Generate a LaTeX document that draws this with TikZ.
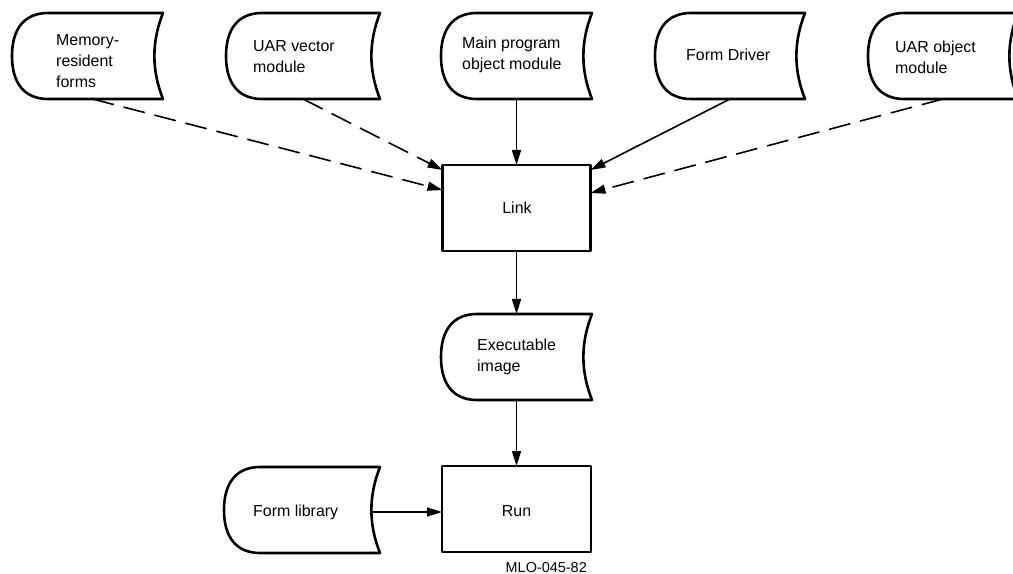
\documentclass[tikz,border=0pt]{standalone}
\usepackage{fontspec}
\setmainfont{Liberation Sans}
\usetikzlibrary{arrows.meta,calc}
\tikzset{
  box/.style={minimum width=#1, minimum height=86bp, inner sep=0pt, outer sep=0pt},
  outline/.style={line width=2.6bp, line join=round},
  lbl/.style={anchor=west, align=left, inner sep=0pt, font=\fontsize{16}{21}\selectfont},
  clbl/.style={inner sep=0pt, font=\fontsize{16}{21}\selectfont},
  conn/.style={line width=1.6bp, -{Triangle[length=15bp,width=9bp]}},
  dconn/.style={conn, dash pattern=on 22bp off 10bp},
}
\newcommand\storeoutline[1]{%
  \draw[outline] ($(#1.north west)+(36,0)$) -- (#1.north east)
    .. controls ($(#1.north east)+(-11.5,29)$) and ($(#1.south east)+(-11.5,-29)$) .. (#1.south east)
    -- ($(#1.south west)+(36,0)$)
    .. controls ($(#1.south west)+(13,0)$) and ($(#1.west)+(0,28)$) .. (#1.west)
    .. controls ($(#1.west)+(0,-28)$) and ($(#1.north west)+(13,0)$) .. cycle;}
\begin{document}
\begin{tikzpicture}[x=1bp, y=-1bp]
\useasboundingbox (0,0) rectangle (1013,574);
% stored-data shapes
\node[box=151bp] (m) at (87.5,56) {};
\node[box=154bp] (v) at (303,56) {};
\node[box=151bp] (p) at (516.5,56) {};
\node[box=150bp] (d) at (730,56) {};
\node[box=150bp] (o) at (943,56) {};
\node[box=151bp] (e) at (516.5,357) {};
\node[box=156bp] (lib) at (302,510) {};
\foreach \n in {m,v,p,d,o,e,lib} {\storeoutline{\n}}
% process boxes
\node[box=148bp, draw, outline] (link) at (516.5,208) {};
\node[box=149bp, draw, outline] (run) at (516.5,509) {};
% labels
\node[lbl] (mt) at (56,61) {Memory-\\resident\\forms};
\node[lbl] (vt) at (253,57) {UAR vector\\module};
\node[lbl] (pt) at (462,55) {Main program\\object module};
\node[lbl] (dt) at (686,55) {Form Driver};
\node[lbl] (ot) at (895,57) {UAR object\\module};
\node[lbl] (et) at (477,357) {Executable\\image};
\node[lbl] (libt) at (253,512) {Form library};
\node[clbl] (linkt) at (517,208) {Link};
\node[clbl] (runt) at (516.5,511) {Run};
\node[anchor=base east, inner sep=0pt, font=\fontsize{14.5}{17}\selectfont] (mlo) at (587,572) {MLO-045-82};
% connectors
\draw[dconn] ($(m.south)+(5,0)$) -- ($(link.north west)+(0,25)$);
\draw[dconn] (v.south) -- ($(link.north west)+(0,5)$);
\draw[conn] (p.south) -- (link.north);
\draw[conn] (d.south) -- ($(link.north east)+(0,5)$);
\draw[dconn] (o.south) -- ($(link.north east)+(0,28)$);
\draw[conn] (link.south) -- (e.north);
\draw[conn] (e.south) -- (run.north);
\draw[conn] ($(lib.east)+(-9,2)$) -- ($(run.west)+(0,3)$);
\end{tikzpicture}
\end{document}
